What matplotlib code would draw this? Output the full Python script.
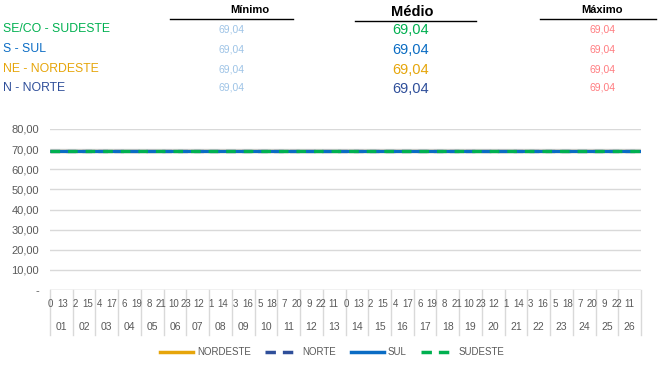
import matplotlib.pyplot as plt
from matplotlib.lines import Line2D

plt.rcParams['font.family'] = ['Liberation Sans', 'DejaVu Sans']

# Data: hourly values for 26 days
days = ['%02d' % d for d in range(1, 27)]
hours = list(range(24))
nordeste = [69.04] * (len(days) * len(hours))
norte = [69.04] * (len(days) * len(hours))
sul = [69.04] * (len(days) * len(hours))
sudeste = [69.04] * (len(days) * len(hours))

# Summary table
regions = ['SE/CO - SUDESTE', 'S - SUL', 'NE - NORDESTE', 'N - NORTE']
minimo = [69.04, 69.04, 69.04, 69.04]
medio = [69.04, 69.04, 69.04, 69.04]
maximo = [69.04, 69.04, 69.04, 69.04]

c_nordeste = '#E6A50A'
c_norte = '#2F4F9A'
c_sul = '#0A6CC4'
c_sudeste = '#00B050'
row_colors = [c_sudeste, c_sul, c_nordeste, c_norte]
gray = '#595959'

W, H = 665, 388
fig = plt.figure(figsize=(W / 100, H / 100), dpi=100)


def fx(px):
    return px / W


def fy(py):
    return 1 - py / H


# Header table
fig.text(fx(250), fy(10), 'Mínimo', fontsize=8, fontweight='bold', ha='center', va='center')
fig.text(fx(412), fy(12), 'Médio', fontsize=10.5, fontweight='bold', ha='center', va='center')
fig.text(fx(602), fy(10), 'Máximo', fontsize=8, fontweight='bold', ha='center', va='center')
for x0, x1, y in [(170, 293, 19), (355, 476, 21), (540, 656, 19)]:
    fig.add_artist(Line2D([fx(x0), fx(x1)], [fy(y), fy(y)], color='black', lw=1))

row_y = [29, 49, 69, 88]
for name, mn, md, mx, col, y in zip(regions, minimo, medio, maximo, row_colors, row_y):
    fig.text(fx(3), fy(y), name, fontsize=8.8, color=col, ha='left', va='center')
    fig.text(fx(231), fy(y), f'{mn:.2f}'.replace('.', ','), fontsize=7.5, color='#9DC3E6', ha='center', va='center')
    fig.text(fx(411), fy(y + 1), f'{md:.2f}'.replace('.', ','), fontsize=10.5, color=col, ha='center', va='center')
    fig.text(fx(602), fy(y), f'{mx:.2f}'.replace('.', ','), fontsize=7.5, color='#FF7C80', ha='center', va='center')

# Main chart
left, right, top, bottom = 50, 641, 129, 290
ax = fig.add_axes([fx(left), fy(bottom), fx(right) - fx(left), fy(top) - fy(bottom)])
n = len(nordeste)
xs = [i + 0.5 for i in range(n)]
ax.plot(xs, nordeste, color=c_nordeste, lw=2.3, solid_capstyle='butt')
ax.plot(xs, norte, color=c_norte, lw=2.3, dashes=(3, 2))
ax.plot(xs, sul, color=c_sul, lw=2.3, solid_capstyle='butt')
ax.plot(xs, sudeste, color=c_sudeste, lw=2.3, dashes=(3, 2.5))

ax.set_xlim(0, n)
ax.set_ylim(0, 80)
yt = list(range(0, 81, 10))
ax.set_yticks(yt)
ax.set_yticklabels(['-'] + [f'{v:.2f}'.replace('.', ',') for v in yt[1:]], fontsize=8, color=gray)
ax.tick_params(axis='y', length=0, pad=8)
ax.set_xticks([])
ax.grid(axis='y', color='#D9D9D9', lw=1)
ax.set_axisbelow(True)
for s in ax.spines.values():
    s.set_visible(False)
ax.axhline(0, color='#D9D9D9', lw=1)

# Multi-level category axis
trans = ax.get_xaxis_transform()
nh = len(hours)
for i in range(0, n, 13):
    ax.text(i + 0.5, -0.085, str(hours[i % nh]), transform=trans, fontsize=7, color=gray,
            ha='center', va='center', clip_on=False)
for d, lab in enumerate(days):
    ax.text(d * nh + nh / 2, -0.23, lab, transform=trans, fontsize=7.5, color=gray,
            ha='center', va='center', clip_on=False)
for d in range(len(days) + 1):
    ax.plot([d * nh, d * nh], [0, -0.28], transform=trans, color='#D9D9D9', lw=1, clip_on=False)

# Legend
handles = [
    Line2D([], [], color=c_nordeste, lw=2.5),
    Line2D([], [], color=c_norte, lw=2.5, dashes=(3, 2)),
    Line2D([], [], color=c_sul, lw=2.5),
    Line2D([], [], color=c_sudeste, lw=2.5, dashes=(3, 2)),
]
fig.legend(handles, ['NORDESTE', 'NORTE', 'SUL', 'SUDESTE'], loc='center',
           bbox_to_anchor=(fx(332), fy(352)), ncol=4, frameon=False, fontsize=7,
           labelcolor=gray, handlelength=3.4, handletextpad=0.4, columnspacing=1.5)

fig.savefig('out.png', dpi=100)
